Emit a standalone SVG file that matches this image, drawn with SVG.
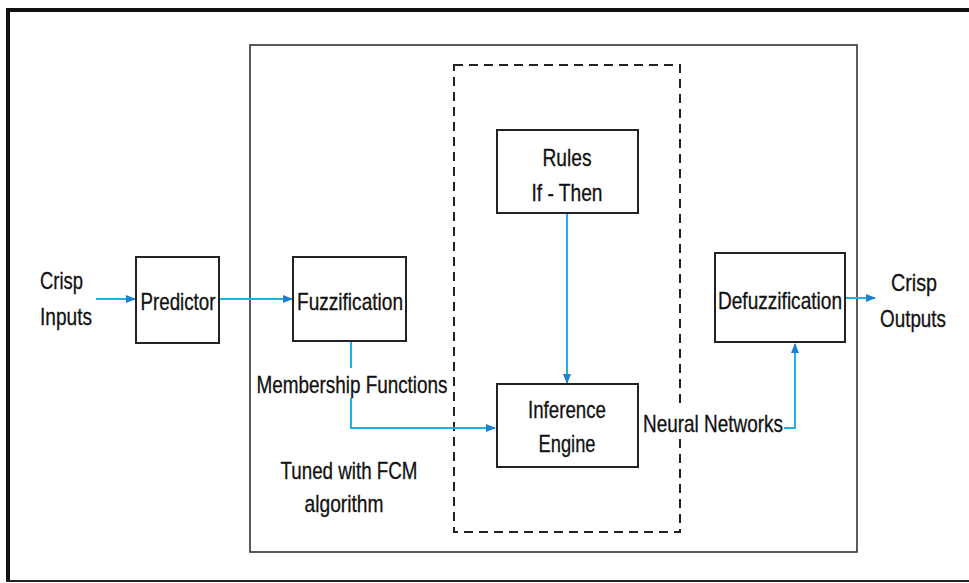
<svg xmlns="http://www.w3.org/2000/svg" width="969" height="583" viewBox="0 0 969 583">
<defs>
<style>
.box{fill:#fff;stroke:#222;stroke-width:2}
.frame{fill:none;stroke:#333;stroke-width:1.6}
.dash{fill:none;stroke:#222;stroke-width:2;stroke-dasharray:9,6}
.c{fill:none;stroke:#1fb0e6;stroke-width:2}
text{font-family:"Liberation Sans",Arial,sans-serif;font-size:24px;fill:#111;stroke:#111;stroke-width:0.3;text-anchor:middle}
.s{text-anchor:start}
.bg{fill:#fff;stroke:none}
</style>
<marker id="ah" viewBox="0 0 10 10" refX="9" refY="5" markerWidth="5" markerHeight="5" orient="auto"><path d="M0,1 L10,5 L0,9 z" fill="#1a7fd0"/></marker>
</defs>
<rect width="969" height="583" fill="#fff"/>
<g id="outer-frame">
<line x1="6" y1="10" x2="969" y2="10" stroke="#111" stroke-width="4"/>
<line x1="8" y1="8" x2="8" y2="582" stroke="#111" stroke-width="4"/>
<line x1="6" y1="581" x2="969" y2="581" stroke="#222" stroke-width="2"/>
</g>
<g id="system-frame"><rect class="frame" x="250" y="45" width="607" height="507"/></g>
<g id="inference-frame"><rect class="dash" x="454" y="65" width="226" height="467"/></g>
<g id="connectors">
<line class="c" x1="96" y1="299" x2="135" y2="299" marker-end="url(#ah)"/>
<line class="c" x1="220" y1="299" x2="292" y2="299" marker-end="url(#ah)"/>
<polyline class="c" points="351,342 351,428 495,428" marker-end="url(#ah)"/>
<line class="c" x1="567" y1="214" x2="567" y2="383" marker-end="url(#ah)"/>
<polyline class="c" points="775,428 795,428 795,344" marker-end="url(#ah)"/>
<line class="c" x1="846" y1="298" x2="875" y2="298" marker-end="url(#ah)"/>
</g>
<g id="predictor"><rect class="box" x="136" y="257" width="83" height="86"/><text x="178" y="310" textLength="75" lengthAdjust="spacingAndGlyphs">Predictor</text></g>
<g id="fuzzification"><rect class="box" x="293" y="257" width="113" height="84"/><text x="350" y="310" textLength="106" lengthAdjust="spacingAndGlyphs">Fuzzification</text></g>
<g id="rules"><rect class="box" x="497" y="130" width="141" height="83"/><text x="567" y="166" textLength="49" lengthAdjust="spacingAndGlyphs">Rules</text><text x="567" y="201" textLength="71" lengthAdjust="spacingAndGlyphs">If - Then</text></g>
<g id="inference-engine"><rect class="box" x="497" y="384" width="141" height="83"/><text x="567" y="418" textLength="78" lengthAdjust="spacingAndGlyphs">Inference</text><text x="567" y="452" textLength="57" lengthAdjust="spacingAndGlyphs">Engine</text></g>
<g id="defuzzification"><rect class="box" x="715" y="253" width="130" height="89"/><text x="780" y="309" textLength="124" lengthAdjust="spacingAndGlyphs">Defuzzification</text></g>
<g id="labels">
<text class="s" x="40" y="289" textLength="43" lengthAdjust="spacingAndGlyphs">Crisp</text><text class="s" x="40" y="325" textLength="52" lengthAdjust="spacingAndGlyphs">Inputs</text>
<text class="s" x="891" y="291" textLength="46" lengthAdjust="spacingAndGlyphs">Crisp</text><text class="s" x="880" y="327" textLength="66" lengthAdjust="spacingAndGlyphs">Outputs</text>
<rect class="bg" x="256" y="368" width="192" height="30"/>
<text x="352" y="393" textLength="191" lengthAdjust="spacingAndGlyphs">Membership Functions</text>
<rect class="bg" x="642" y="408" width="142" height="30"/>
<text x="713" y="432" textLength="140" lengthAdjust="spacingAndGlyphs">Neural Networks</text>
<text x="349" y="479" textLength="137" lengthAdjust="spacingAndGlyphs">Tuned with FCM</text><text x="344" y="512" textLength="79" lengthAdjust="spacingAndGlyphs">algorithm</text>
</g>
</svg>
